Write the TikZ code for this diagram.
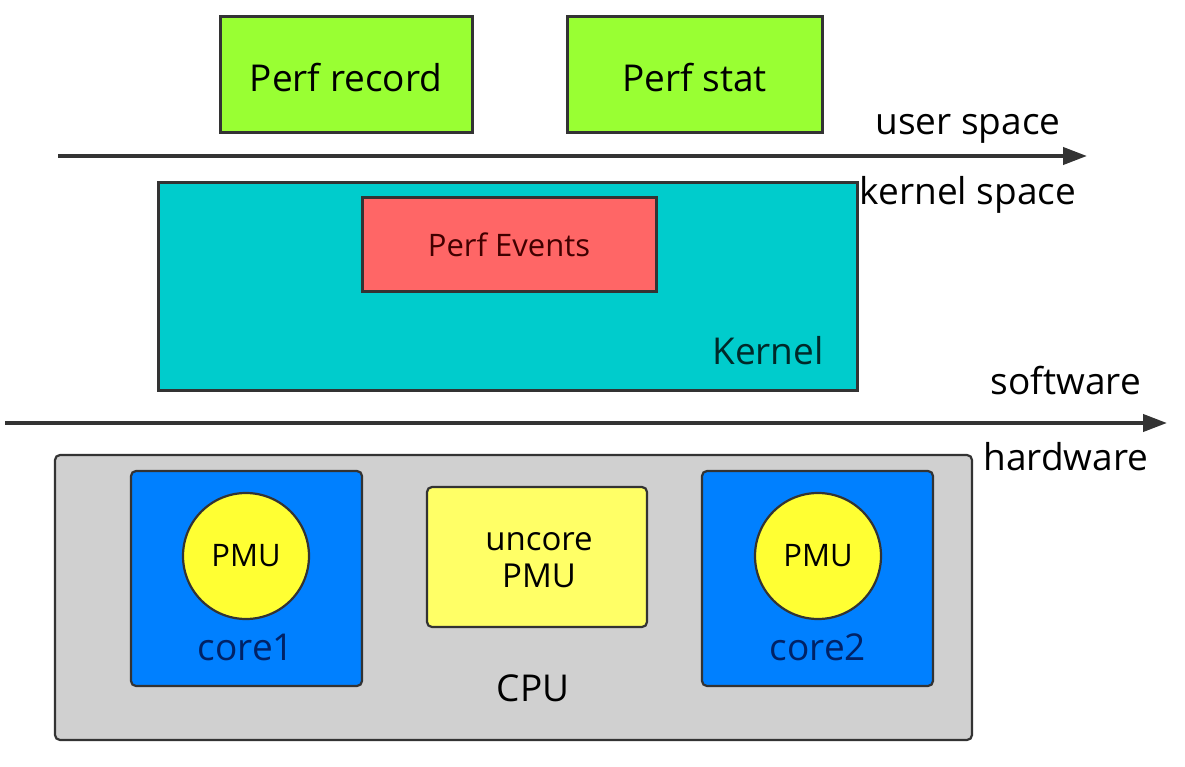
\documentclass[tikz,border=0pt]{standalone}
\usepackage{fontspec}
\setmainfont{Open Sans}
\usetikzlibrary{arrows.meta}
\definecolor{edge}{HTML}{333333}
\definecolor{lime}{HTML}{99FF33}
\definecolor{teal}{HTML}{00CCCC}
\definecolor{salmon}{HTML}{FF6666}
\definecolor{chip}{HTML}{D0D0D0}
\definecolor{coreblue}{HTML}{0080FF}
\definecolor{pmuyellow}{HTML}{FFFF33}
\definecolor{uncoreyellow}{HTML}{FFFF66}
\definecolor{corelabel}{HTML}{002266}
\tikzset{
  box/.style={draw=edge, line width=3pt, inner sep=0pt, align=center},
  rbox/.style={box, rounded corners=5pt, line width=2.2pt},
  big/.style={font=\fontsize{37}{42}\selectfont},
  mid/.style={font=\fontsize{37}{42}\selectfont},
  small/.style={font=\fontsize{31}{36}\selectfont},
  divider/.style={draw=edge, line width=4pt, -{Triangle[length=24pt,width=17pt]}},
}
\begin{document}
\begin{tikzpicture}[x=1pt,y=-1pt]
\useasboundingbox (0,0) rectangle (1185,767);
\fill[white] (0,0) rectangle (1185,767);

% user-space tools
\node[box, fill=lime, minimum width=252pt, minimum height=116pt] (record) at (346,75) {};
\node[big] (recordtxt) at (346,78) {Perf record};
\node[box, fill=lime, minimum width=255pt, minimum height=116pt] (stat) at (694.5,75) {};
\node[big] (stattxt) at (694.5,78) {Perf stat};

% user / kernel boundary
\coordinate (uk0) at (58,156);
\coordinate (uk1) at (1087,156);
\draw[divider] (uk0) -- (uk1);
\node[big] (userlbl) at (968,129) {user space};
\node[big] (kernlbl) at (968,195) {kernel space};

% kernel
\node[box, fill=teal, minimum width=699pt, minimum height=207pt] (kernel) at (507.5,286.5) {};
\node[mid, text=black!80!teal] (kernelname) at (768,351) {Kernel};
\node[box, small, fill=salmon, text=black!75!red, minimum width=294pt, minimum height=93pt] (events) at (509,244.5) {Perf Events};

% software / hardware boundary
\coordinate (sh0) at (5,423);
\coordinate (sh1) at (1167,423);
\draw[divider] (sh0) -- (sh1);
\node[big] (swlbl) at (1066,381) {software};
\node[big] (hwlbl) at (1066,457) {hardware};

% CPU package
\node[rbox, fill=chip, minimum width=917pt, minimum height=285pt] (cpu) at (513.5,597.5) {};
\node[mid] (cpuname) at (533,688) {CPU};

\node[rbox, fill=coreblue, minimum width=231pt, minimum height=215pt] (core1) at (246.5,578.5) {};
\node[circle, draw=edge, line width=2.2pt, fill=pmuyellow, minimum size=126pt, inner sep=0pt, small] (pmu1) at (246,556) {PMU};
\node[mid, text=corelabel] (core1name) at (246,647) {core1};

\node[rbox, fill=uncoreyellow, minimum width=220pt, minimum height=140pt] (uncore) at (537,557) {};
\node[align=center, font=\fontsize{33}{37}\selectfont] (uncoretxt) at (539,560) {uncore\\PMU};

\node[rbox, fill=coreblue, minimum width=231pt, minimum height=215pt] (core2) at (817.5,578.5) {};
\node[circle, draw=edge, line width=2.2pt, fill=pmuyellow, minimum size=126pt, inner sep=0pt, small] (pmu2) at (818,556) {PMU};
\node[mid, text=corelabel] (core2name) at (818,647) {core2};
\end{tikzpicture}
\end{document}
